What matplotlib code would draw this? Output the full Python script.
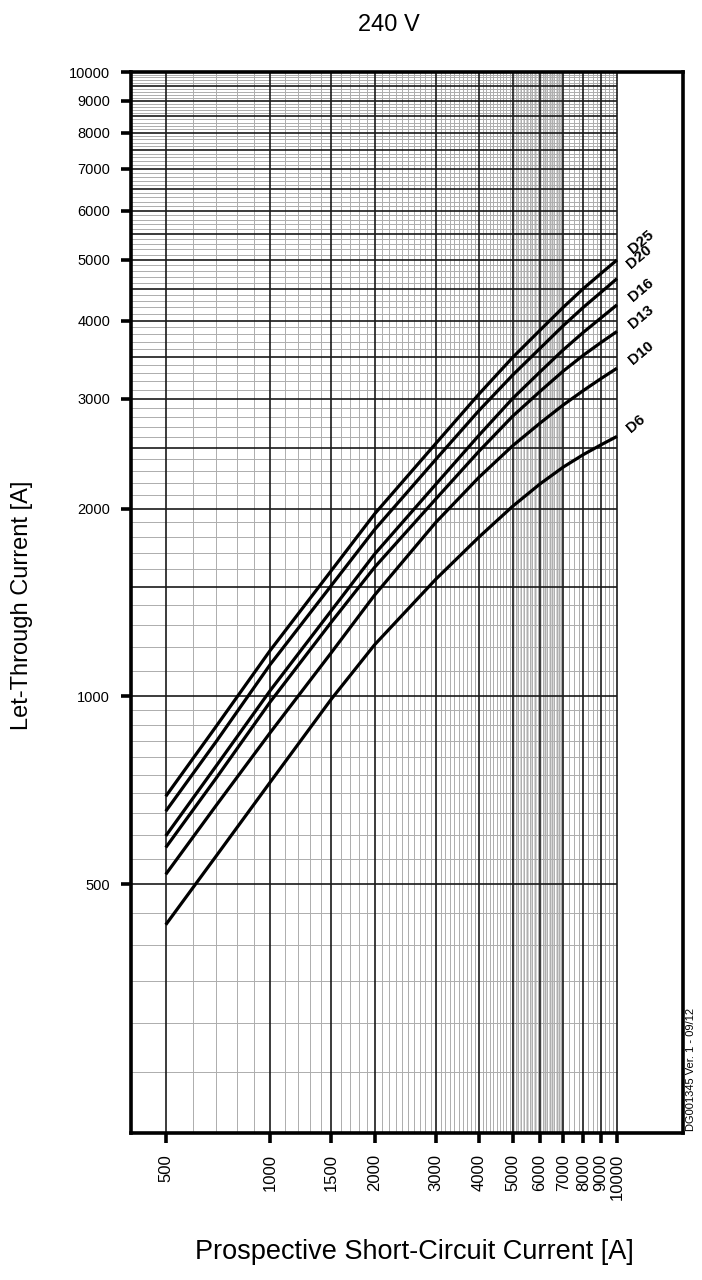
import numpy as np
import matplotlib
matplotlib.use("Agg")
import matplotlib.pyplot as plt
from matplotlib.ticker import NullLocator, FixedLocator, FixedFormatter

plt.rcParams['font.family'] = ['Liberation Sans', 'DejaVu Sans']

# ---------------- data ----------------
title = "240 V"
x_label = "Prospective Short-Circuit Current [A]"
y_label = "Let-Through Current [A]"

current = [500, 700, 1000, 1500, 2000, 3000, 4000, 5000, 6000, 7000, 8000, 9000, 10000]
D25 = [692, 897, 1185, 1590, 1960, 2540, 3050, 3490, 3860, 4200, 4500, 4760, 5000]
D20 = [655, 848, 1125, 1505, 1850, 2395, 2870, 3270, 3610, 3925, 4200, 4440, 4668]
D16 = [598, 775, 1022, 1372, 1690, 2185, 2620, 3000, 3310, 3590, 3830, 4040, 4238]
D13 = [573, 741, 980, 1315, 1610, 2070, 2470, 2810, 3080, 3320, 3520, 3690, 3842]
D10 = [519, 670, 875, 1175, 1453, 1899, 2244, 2520, 2740, 2930, 3090, 3230, 3355]
D6 = [431, 556, 729, 990, 1210, 1540, 1800, 2016, 2190, 2330, 2440, 2530, 2609]
series = {"D25": D25, "D20": D20, "D16": D16, "D13": D13, "D10": D10, "D6": D6}

x_ticks = [500, 1000, 1500, 2000, 3000, 4000, 5000, 6000, 7000, 8000, 9000, 10000]
y_ticks = [500, 1000, 2000, 3000, 4000, 5000, 6000, 7000, 8000, 9000, 10000]
x_major_grid = x_ticks
x_minor_grid = ([v for v in range(600, 7000, 100) if v not in x_ticks]
                + [v for v in range(7250, 10000, 250) if v % 1000 != 0])
x_fine_grid = list(range(5050, 7000, 100))
y_major_grid = [500] + list(range(1000, 10001, 500))
y_minor_grid = ([v for v in range(250, 1000, 50) if v != 500]
                + [v for v in range(1100, 10000, 100) if v % 500 != 0])

footer = "DG001345 Ver. 1 - 09/12"

# ---------------- figure ----------------
W, H = 702, 1280
fig = plt.figure(figsize=(W / 100, H / 100), dpi=100)
L, R, T, B = 131, 683, 72, 1133
ax = fig.add_axes([L / W, 1 - B / H, (R - L) / W, (B - T) / H])
ax.set_xscale('log')
ax.set_yscale('log')
xmin, xmax = 397, 15500
ymin, ymax = 200, 10000
ax.set_xlim(xmin, xmax)
ax.set_ylim(ymin, ymax)

# grid (only up to 10000 on x)
ax.vlines(x_fine_grid, ymin, ymax, colors='#c6c6c6', lw=0.5, zorder=1)
ax.vlines(x_minor_grid, ymin, ymax, colors='#adadad', lw=0.7, zorder=1)
ax.hlines(y_minor_grid, xmin, 10000, colors='#adadad', lw=0.7, zorder=1)
ax.vlines(x_major_grid, ymin, ymax, colors='#1a1a1a', lw=1.2, zorder=2)
ax.hlines(y_major_grid, xmin, 10000, colors='#1a1a1a', lw=1.2, zorder=2)

for name, vals in series.items():
    ax.plot(current, vals, color='black', lw=2.3, zorder=5, solid_capstyle='butt')

offsets = {"D25": (24, 18), "D20": (22, 22), "D16": (24, 15), "D13": (24, 15),
           "D10": (24, 15), "D6": (19, 13)}
for name, vals in series.items():
    dx, dy = offsets[name]
    ax.annotate(name, xy=(current[-1], vals[-1]), xytext=(dx, dy),
                textcoords='offset pixels', ha='center', va='center',
                rotation=40, fontsize=11, fontweight='bold', annotation_clip=False)

for s in ax.spines.values():
    s.set_linewidth(2.6)
    s.set_color('black')

ax.xaxis.set_major_locator(FixedLocator(x_ticks))
ax.xaxis.set_major_formatter(FixedFormatter([str(v) for v in x_ticks]))
ax.xaxis.set_minor_locator(NullLocator())
ax.yaxis.set_major_locator(FixedLocator(y_ticks))
ax.yaxis.set_major_formatter(FixedFormatter([str(v) for v in y_ticks]))
ax.yaxis.set_minor_locator(NullLocator())
ax.tick_params(axis='both', which='major', direction='out', length=7, width=2.6,
               color='black')
ax.tick_params(axis='x', pad=8, labelrotation=90, labelsize=12)
ax.tick_params(axis='y', pad=8, labelsize=10.5)

fig.text(389 / W, 1 - 25 / H, title, ha='center', va='center', fontsize=17)
fig.text(414 / W, 1 - 1252 / H, x_label, ha='center', va='center', fontsize=19.5)
fig.text(22 / W, 1 - 605 / H, y_label, ha='center', va='center', fontsize=17, rotation=90)
fig.text(691 / W, 1 - 1131 / H, footer, ha='center', va='bottom', fontsize=8, rotation=90)

fig.savefig("out.png", dpi=100)
